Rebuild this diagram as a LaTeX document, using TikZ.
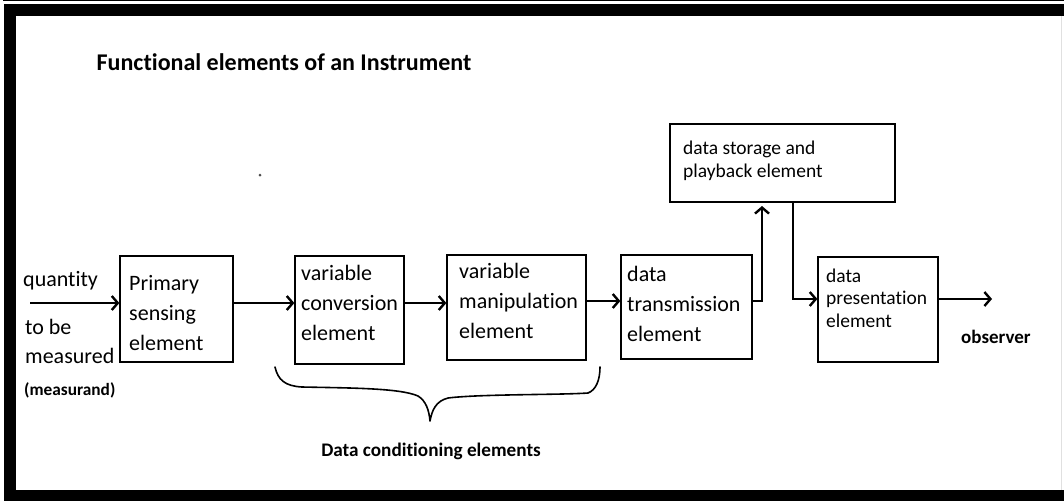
\documentclass[tikz,border=0pt]{standalone}
\usepackage{fontspec}
\setmainfont{Carlito}[Ligatures=NoCommon]
\usetikzlibrary{arrows.meta,calc}
\begin{document}
\begin{tikzpicture}[x=1pt,y=-1pt,
  box/.style={draw, line width=1.3pt, inner sep=0pt},
  txt/.style={anchor=west, align=left, inner sep=0pt, font=\fontsize{22}{30}\selectfont},
  smalltxt/.style={anchor=west, align=left, inner sep=0pt, font=\fontsize{19.5}{22.5}\selectfont},
  boldtxt/.style={inner sep=0pt, font=\bfseries\fontsize{17.3}{20}\selectfont},
  arr/.style={line width=1.3pt, -{Straight Barb[length=6pt,width=14pt,line width=2.4pt]}},
  frame/.style={fill=black, draw=none}]
% background and frame
\fill[white] (0,0) rectangle (1064,501);
\useasboundingbox (0,0) rectangle (1064,501);
\path[frame] (3,0) rectangle (1064,1.3);
\path[frame] (4,3.5) rectangle (1064,16);
\path[frame] (4,3.5) rectangle (16,501);
\path[frame] (4,490) rectangle (1064,501);
\draw[black!12, line width=1pt] (1061,16) -- (1061,490);
% title
\node[inner sep=0pt, font=\bfseries\fontsize{24}{26}\selectfont] (title) at (284,62) {Functional elements of an Instrument};
% stray dot
\fill[black!70] (260,175) circle (1.5);
% boxes
\node[box, minimum width=113, minimum height=106] (ps) at (176.5,309) {};
\node[box, minimum width=109, minimum height=108] (vc) at (349.5,310) {};
\node[box, minimum width=139, minimum height=105] (vm) at (516.5,307.5) {};
\node[box, minimum width=131, minimum height=104] (dt) at (686.5,307) {};
\node[box, minimum width=225, minimum height=78] (ds) at (782.5,163) {};
\node[box, minimum width=120, minimum height=105] (dp) at (878,309.5) {};
% box texts
\node[txt] (pst) at (129,313) {Primary\\sensing\\element};
\node[txt] (vct) at (301,303) {variable\\conversion\\element};
\node[txt] (vmt) at (459,301) {variable\\manipulation\\element};
\node[txt] (dtt) at (627,304) {data\\transmission\\element};
\node[smalltxt] (dst) at (683,161) {data storage and\\playback element};
\node[smalltxt] (dpt) at (826,298) {data\\presentation\\element};
% input labels
\node[txt] (q1) at (23,281) {quantity};
\node[txt] (q2) at (25,327) {to be};
\node[txt] (q3) at (25,356) {measured};
\node[boldtxt, anchor=west] (q4) at (24,390) {(measurand)};
\node[boldtxt, anchor=west, font=\bfseries\fontsize{19}{22}\selectfont] (obs) at (961,337) {observer};
\node[boldtxt, font=\bfseries\fontsize{19.2}{22}\selectfont] (dce) at (431,451) {Data conditioning elements};
% connectors
\coordinate (in) at (30,303);
\coordinate (out) at (992,299);
\draw[arr] (in) -- (in -| ps.west);
\draw[arr] (ps.east |- 0,303) -- (vc.west |- 0,303);
\draw[arr] (vc.east |- 0,303) -- (vm.west |- 0,303);
\draw[arr] (vm.east |- 0,301) -- (dt.west |- 0,301);
\draw[arr] (dt.east |- 0,301) -- (762,301) -- (762,206);
\draw[arr] (793,0 |- ds.south) -- (793,299) -- (dp.west |- 0,299);
\draw[arr] (dp.east |- 0,299) -- (out);
% brace
\draw[line width=1.6pt, line cap=round, line join=round]
  (275,367) .. controls (278,380) and (285,386) .. (302,387)
  .. controls (350,388) and (400,388) .. (418,396)
  .. controls (426,401) and (429,410) .. (430,421)
  .. controls (432,410) and (436,401) .. (448,398)
  .. controls (480,394) and (560,395) .. (588,393)
  .. controls (596,390) and (600,380) .. (600,367);
\end{tikzpicture}
\end{document}
